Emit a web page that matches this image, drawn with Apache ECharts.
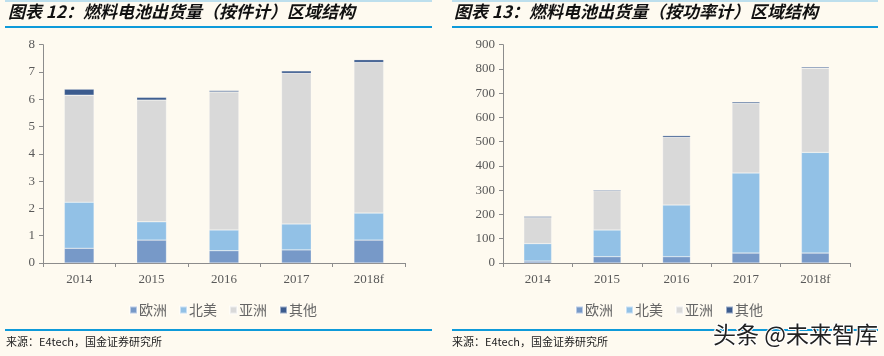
<!DOCTYPE html>
<html><head><meta charset="utf-8">
<script src="https://cdn.jsdelivr.net/npm/echarts@6/dist/echarts.min.js"></script>
<style>html,body{margin:0;padding:0;background:#fefaf0;}#c{width:884px;height:356px;}</style>
</head><body><div id="c"></div>
<script>
var categories = ['2014', '2015', '2016', '2017', '2018f'];
var seriesNames = ['欧洲', '北美', '亚洲', '其他'];
// 图表12 按件计 (千件)
var unitsEurope = [0.54, 0.84, 0.45, 0.48, 0.84];
var unitsNA = [1.69, 0.67, 0.76, 0.95, 0.99];
var unitsAsia = [3.92, 4.46, 5.06, 5.52, 5.52];
var unitsOther = [0.22, 0.10, 0.05, 0.09, 0.10];
// 图表13 按功率计 (MW)
var powerEurope = [8, 26, 26, 41, 41];
var powerNA = [72, 110, 213, 330, 415];
var powerAsia = [107, 162, 279, 287, 347];
var powerOther = [5, 4, 7, 6, 5];
var unitsTicks = [0, 8, 1];
var powerTicks = [0, 900, 100];

var colors = ['#7799c8', '#92c1e6', '#d9d9d9', '#3b5b8e'];
var chart = echarts.init(document.getElementById('c'));
var axisLabel = {color: '#595959', fontFamily: 'Liberation Serif', fontSize: 13};
var axisLine = {show: true, lineStyle: {color: '#8c8c8c'}};
function mk(name, data, idx, k) {
  return {name: name, type: 'bar', stack: 's' + idx, xAxisIndex: idx, yAxisIndex: idx,
    barWidth: idx === 0 ? '41%' : '40%', data: data,
    itemStyle: {color: colors[k], borderColor: 'rgba(255,255,255,0.5)', borderWidth: 0.5}};
}
function legend(left) {
  return {left: left, top: 298, itemWidth: 7, itemHeight: 7, itemGap: 12, icon: 'rect',
    textStyle: {color: '#666', fontSize: 14, fontFamily: 'Noto Sans CJK SC', padding: [0, 0, 0, -3]},
    data: seriesNames, selectedMode: false};
}
var lineColor = '#0e9ad9';
var titleStyle = {fontSize: 17, fontWeight: 'bold', fontStyle: 'italic', fill: '#111', fontFamily: 'Noto Sans CJK SC'};
chart.setOption({
  backgroundColor: '#fefaf0',
  animation: false,
  grid: [
    {left: 43, top: 44.7, width: 362, height: 218.3},
    {left: 503, top: 44.7, width: 347, height: 218.3}
  ],
  legend: [legend(124), legend(570)],
  xAxis: [0, 1].map(function (i) {
    return {type: 'category', gridIndex: i, data: categories, axisLine: axisLine,
      axisTick: {show: true, lineStyle: {color: '#8c8c8c'}, length: 4}, axisLabel: Object.assign({margin: 10}, axisLabel)};
  }),
  yAxis: [
    {type: 'value', gridIndex: 0, min: unitsTicks[0], max: unitsTicks[1], interval: unitsTicks[2], axisLine: axisLine,
      axisTick: {show: true, lineStyle: {color: '#8c8c8c'}, length: 4}, splitLine: {show: false}, axisLabel: Object.assign({margin: 8}, axisLabel)},
    {type: 'value', gridIndex: 1, min: powerTicks[0], max: powerTicks[1], interval: powerTicks[2], axisLine: axisLine,
      axisTick: {show: true, lineStyle: {color: '#8c8c8c'}, length: 4}, splitLine: {show: false}, axisLabel: Object.assign({margin: 8}, axisLabel)}
  ],
  series: [
    mk(seriesNames[0], unitsEurope, 0, 0), mk(seriesNames[1], unitsNA, 0, 1), mk(seriesNames[2], unitsAsia, 0, 2), mk(seriesNames[3], unitsOther, 0, 3),
    mk(seriesNames[0], powerEurope, 1, 0), mk(seriesNames[1], powerNA, 1, 1), mk(seriesNames[2], powerAsia, 1, 2), mk(seriesNames[3], powerOther, 1, 3)
  ],
  graphic: [
    {type: 'rect', shape: {x: 5, y: 0.5, width: 427, height: 1}, style: {fill: '#7cc3ea'}},
    {type: 'rect', shape: {x: 452, y: 0.5, width: 426, height: 1}, style: {fill: '#7cc3ea'}},
    {type: 'rect', shape: {x: 5, y: 26, width: 427, height: 2}, style: {fill: lineColor}},
    {type: 'rect', shape: {x: 452, y: 26, width: 426, height: 2}, style: {fill: lineColor}},
    {type: 'text', left: 8, top: 3, style: Object.assign({text: '图表 12：燃料电池出货量（按件计）区域结构'}, titleStyle)},
    {type: 'text', left: 454, top: 3, style: Object.assign({text: '图表 13：燃料电池出货量（按功率计）区域结构'}, titleStyle)},
    {type: 'rect', shape: {x: 5, y: 329, width: 427, height: 2}, style: {fill: lineColor}},
    {type: 'rect', shape: {x: 452, y: 329, width: 426, height: 2}, style: {fill: lineColor}},
    {type: 'text', left: 6, top: 336, style: {text: '来源：E4tech，国金证券研究所', fontSize: 11, fill: '#222', fontFamily: 'Noto Sans CJK SC'}},
    {type: 'text', left: 452, top: 336, style: {text: '来源：E4tech，国金证券研究所', fontSize: 11, fill: '#222', fontFamily: 'Noto Sans CJK SC'}},
    {type: 'text', left: 712, top: 322, style: {text: '头条 @未来智库', fontSize: 23, fill: '#222', fontFamily: 'Noto Sans CJK SC', stroke: '#fff', lineWidth: 2}}
  ]
});
</script></body></html>
